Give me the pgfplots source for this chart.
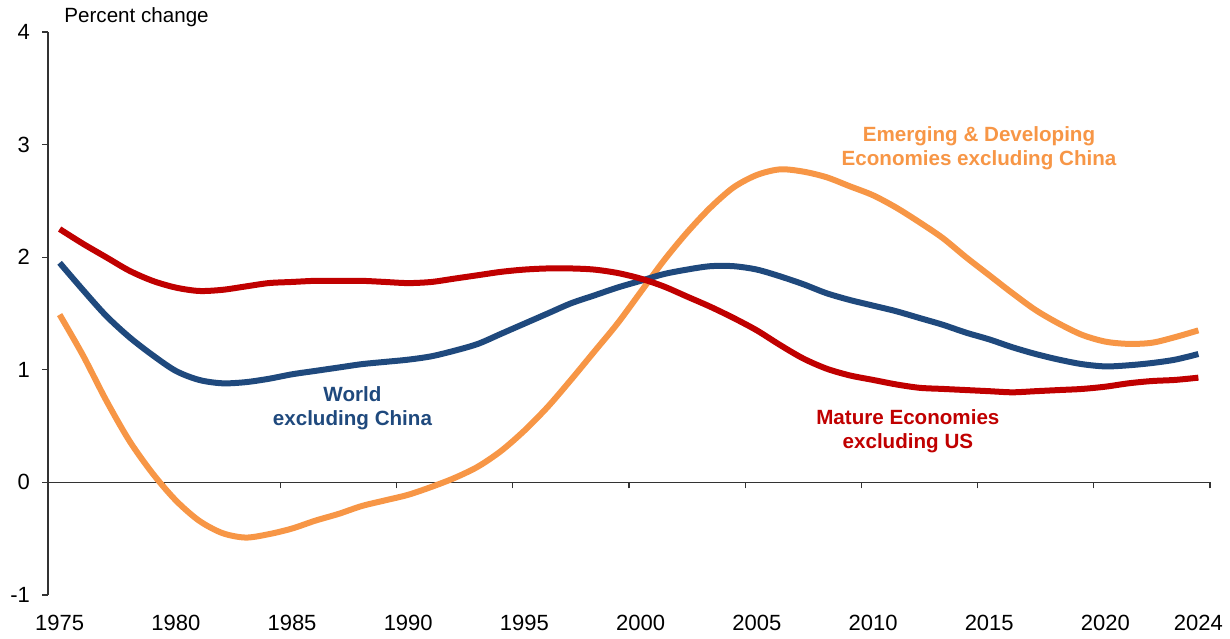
\documentclass[border=0pt]{standalone}
\usepackage{pgfplots}
\pgfplotsset{compat=1.18}
\usepackage{fontspec}
\setmainfont{Liberation Sans}
\definecolor{cOrange}{RGB}{247,150,70}
\definecolor{cBlue}{RGB}{31,73,125}
\definecolor{cRed}{RGB}{192,0,0}
\begin{document}
\begin{tikzpicture}
\begin{axis}[
  name=ax,
  scale only axis,
  width=581pt, height=281.5pt,
  xmin=1974.5, xmax=2024.5,
  ymin=-1, ymax=4,
  axis y line*=left,
  axis x line*=bottom,
  x axis line style={draw=none},
  y axis line style={line width=0.6pt, black!80},
  xtick={1975,1980,1985,1990,1995,2000,2005,2010,2015,2020,2024},
  xticklabels={1975,1980,1985,1990,1995,2000,2005,2010,2015,2020,2024},
  ytick={-1,0,1,2,3,4},
  xtick style={draw=none},
  ytick style={line width=0.6pt, black!80},
  tick align=outside,
  major tick length=3pt,
  tick label style={font=\fontsize{11}{13}\selectfont},
  /pgf/number format/assume math mode=true,
  xticklabel style={yshift=-3.5pt},
  yticklabel style={xshift=-2.5pt},
  clip=false,
]
\draw[line width=0.6pt, black!80] (axis cs:1974.5,0) -- (axis cs:2024.5,0);
\draw[line width=0.6pt, black!80] ([yshift=-3pt]axis cs:1979.5,0) -- (axis cs:1979.5,0);
\draw[line width=0.6pt, black!80] ([yshift=-3pt]axis cs:1984.5,0) -- (axis cs:1984.5,0);
\draw[line width=0.6pt, black!80] ([yshift=-3pt]axis cs:1989.5,0) -- (axis cs:1989.5,0);
\draw[line width=0.6pt, black!80] ([yshift=-3pt]axis cs:1994.5,0) -- (axis cs:1994.5,0);
\draw[line width=0.6pt, black!80] ([yshift=-3pt]axis cs:1999.5,0) -- (axis cs:1999.5,0);
\draw[line width=0.6pt, black!80] ([yshift=-3pt]axis cs:2004.5,0) -- (axis cs:2004.5,0);
\draw[line width=0.6pt, black!80] ([yshift=-3pt]axis cs:2009.5,0) -- (axis cs:2009.5,0);
\draw[line width=0.6pt, black!80] ([yshift=-3pt]axis cs:2014.5,0) -- (axis cs:2014.5,0);
\draw[line width=0.6pt, black!80] ([yshift=-3pt]axis cs:2019.5,0) -- (axis cs:2019.5,0);
\draw[line width=0.6pt, black!80] ([yshift=-3pt]axis cs:2024.5,0) -- (axis cs:2024.5,0);

% Emerging & Developing Economies excluding China
\addplot[cOrange, line width=3pt, smooth, tension=0.5] coordinates {
(1975,1.49) (1976,1.13) (1977,0.73) (1978,0.37) (1979,0.08) (1980,-0.16)
(1981,-0.34) (1982,-0.45) (1983,-0.49) (1984,-0.46) (1985,-0.41) (1986,-0.34)
(1987,-0.28) (1988,-0.21) (1989,-0.16) (1990,-0.11) (1991,-0.04) (1992,0.04)
(1993,0.14) (1994,0.28) (1995,0.46) (1996,0.67) (1997,0.91) (1998,1.16)
(1999,1.41) (2000,1.69) (2001,1.97) (2002,2.22) (2003,2.44) (2004,2.62)
(2005,2.73) (2006,2.78) (2007,2.76) (2008,2.71) (2009,2.63) (2010,2.55)
(2011,2.44) (2012,2.31) (2013,2.17) (2014,2.00) (2015,1.84) (2016,1.68)
(2017,1.53) (2018,1.41) (2019,1.31) (2020,1.25) (2021,1.23) (2022,1.24)
(2023,1.29) (2024,1.35)
};
% World excluding China
\addplot[cBlue, line width=3pt, smooth, tension=0.5] coordinates {
(1975,1.95) (1976,1.71) (1977,1.48) (1978,1.29) (1979,1.13) (1980,0.99)
(1981,0.91) (1982,0.88) (1983,0.89) (1984,0.92) (1985,0.96) (1986,0.99)
(1987,1.02) (1988,1.05) (1989,1.07) (1990,1.09) (1991,1.12) (1992,1.17)
(1993,1.23) (1994,1.32) (1995,1.41) (1996,1.50) (1997,1.59) (1998,1.66)
(1999,1.73) (2000,1.79) (2001,1.85) (2002,1.89) (2003,1.92) (2004,1.92)
(2005,1.89) (2006,1.83) (2007,1.76) (2008,1.68) (2009,1.62) (2010,1.57)
(2011,1.52) (2012,1.46) (2013,1.40) (2014,1.33) (2015,1.27) (2016,1.20)
(2017,1.14) (2018,1.09) (2019,1.05) (2020,1.03) (2021,1.04) (2022,1.06)
(2023,1.09) (2024,1.14)
};
% Mature Economies excluding US
\addplot[cRed, line width=3pt, smooth, tension=0.5] coordinates {
(1975,2.25) (1976,2.12) (1977,2.00) (1978,1.88) (1979,1.79) (1980,1.73)
(1981,1.70) (1982,1.71) (1983,1.74) (1984,1.77) (1985,1.78) (1986,1.79)
(1987,1.79) (1988,1.79) (1989,1.78) (1990,1.77) (1991,1.78) (1992,1.81)
(1993,1.84) (1994,1.87) (1995,1.89) (1996,1.90) (1997,1.90) (1998,1.89)
(1999,1.86) (2000,1.81) (2001,1.74) (2002,1.65) (2003,1.56) (2004,1.46)
(2005,1.35) (2006,1.22) (2007,1.10) (2008,1.01) (2009,0.95) (2010,0.91)
(2011,0.87) (2012,0.84) (2013,0.83) (2014,0.82) (2015,0.81) (2016,0.80)
(2017,0.81) (2018,0.82) (2019,0.83) (2020,0.85) (2021,0.88) (2022,0.90)
(2023,0.91) (2024,0.93)
};

\node[cOrange, align=center, font=\fontsize{10.3}{12}\selectfont\bfseries] at (axis cs:2014.56,2.97) {Emerging \& Developing\\Economies excluding China};
\node[cBlue, align=center, font=\fontsize{10.3}{12}\selectfont\bfseries] at (axis cs:1987.6,0.66) {World\\excluding China};
\node[cRed, align=center, font=\fontsize{10.3}{12}\selectfont\bfseries] at (axis cs:2011.5,0.45) {Mature Economies\\excluding US};
\node[anchor=base west, inner sep=0pt, font=\fontsize{10.3}{12}\selectfont, xshift=8pt, yshift=4.5pt] at (rel axis cs:0,1) {Percent change};
\end{axis}
\path ([xshift=-24pt,yshift=-22pt]ax.south west) rectangle ([xshift=10pt,yshift=16pt]ax.north east);
\end{tikzpicture}
\end{document}
